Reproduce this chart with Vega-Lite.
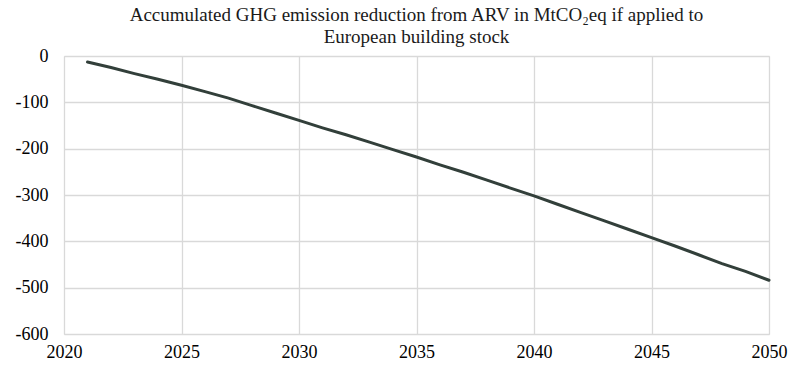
{
  "$schema": "https://vega.github.io/schema/vega-lite/v6.json",
  "width": 705,
  "height": 278,
  "autosize": {"type": "none"},
  "padding": {"left": 64, "top": 56, "right": 21, "bottom": 33},
  "background": "white",
  "title": {
    "text": ["Accumulated GHG emission reduction from ARV in MtCO₂eq if applied to", "European building stock"],
    "font": "'Liberation Serif', 'DejaVu Serif', serif",
    "fontSize": 19,
    "fontWeight": "normal",
    "color": "#1a1a1a",
    "anchor": "middle",
    "lineHeight": 22,
    "offset": 0
  },
  "data": {
    "values": [
      {"year": 2021, "value": -13},
      {"year": 2022, "value": -25},
      {"year": 2023, "value": -38},
      {"year": 2024, "value": -50},
      {"year": 2025, "value": -63},
      {"year": 2026, "value": -77},
      {"year": 2027, "value": -91},
      {"year": 2028, "value": -107},
      {"year": 2029, "value": -123},
      {"year": 2030, "value": -139},
      {"year": 2031, "value": -155},
      {"year": 2032, "value": -170},
      {"year": 2033, "value": -186},
      {"year": 2034, "value": -202},
      {"year": 2035, "value": -218},
      {"year": 2036, "value": -235},
      {"year": 2037, "value": -251},
      {"year": 2038, "value": -268},
      {"year": 2039, "value": -285},
      {"year": 2040, "value": -302},
      {"year": 2041, "value": -320},
      {"year": 2042, "value": -338},
      {"year": 2043, "value": -356},
      {"year": 2044, "value": -374},
      {"year": 2045, "value": -392},
      {"year": 2046, "value": -410},
      {"year": 2047, "value": -429},
      {"year": 2048, "value": -448},
      {"year": 2049, "value": -465},
      {"year": 2050, "value": -484}
    ]
  },
  "mark": {"type": "line", "color": "#323f3a", "strokeWidth": 3, "strokeCap": "round"},
  "encoding": {
    "x": {
      "field": "year",
      "type": "quantitative",
      "scale": {"domain": [2020, 2050], "nice": false, "zero": false},
      "axis": {
        "title": null,
        "values": [2020, 2025, 2030, 2035, 2040, 2045, 2050],
        "labelExpr": "toString(datum.value)",
        "grid": true,
        "gridColor": "#d9d9d9",
        "gridWidth": 1.3,
        "domain": false,
        "ticks": false,
        "labelFont": "'Liberation Serif', 'DejaVu Serif', serif",
        "labelFontSize": 18,
        "labelColor": "#000000",
        "labelPadding": 9,
        "labelFlush": false
      }
    },
    "y": {
      "field": "value",
      "type": "quantitative",
      "scale": {"domain": [-600, 0], "nice": false},
      "axis": {
        "title": null,
        "values": [0, -100, -200, -300, -400, -500, -600],
        "labelExpr": "toString(datum.value)",
        "grid": true,
        "gridColor": "#d9d9d9",
        "gridWidth": 1.3,
        "domain": false,
        "ticks": false,
        "labelFont": "'Liberation Serif', 'DejaVu Serif', serif",
        "labelFontSize": 18,
        "labelColor": "#000000",
        "labelPadding": 16
      }
    }
  }
}
